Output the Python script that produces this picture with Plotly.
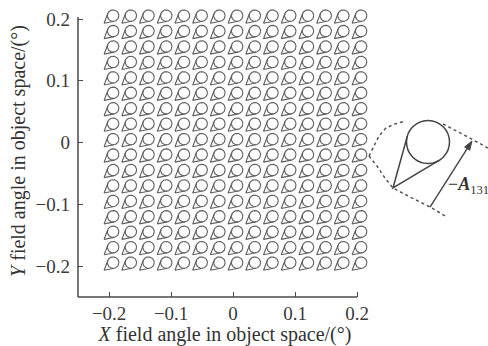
import numpy as np
import plotly.graph_objects as go

# ---- data: field-point grid (deg) ----
x_fields = [-0.2, -0.1714, -0.1429, -0.1143, -0.0857, -0.0571, -0.0286, 0.0,
            0.0286, 0.0571, 0.0857, 0.1143, 0.1429, 0.1714, 0.2]
y_fields = [0.2, 0.175, 0.15, 0.125, 0.1, 0.075, 0.05, 0.025, 0.0,
            -0.025, -0.05, -0.075, -0.1, -0.125, -0.15, -0.175, -0.2]
tick_vals = [-0.2, -0.1, 0, 0.1, 0.2]
tick_text = ["\u22120.2", "\u22120.1", "0", "0.1", "0.2"]
x_title = "<i>X</i> field angle in object space/(°)"
y_title = "<i>Y</i> field angle in object space/(°)"
callout_label = "\u2212<b><i>A</i></b><sub>131</sub>"

# ---- layout geometry (pixels) ----
W, H = 488, 346
L, R, T, B = 78, 372, 5, 297          # plot area (extended so glyphs are not clipped)
AX_END_X = 0.2                         # visible end of x-axis line
AX_END_Y = 0.2032                      # visible end of y-axis line
px_per_x = 620.0
px_per_y = 617.5
x_lo = -0.2502
y_lo = -0.2502
xr = [x_lo, x_lo + (R - L) / px_per_x]
yr = [y_lo, y_lo + (B - T) / px_per_y]
sx, sy = px_per_x, px_per_y

# glyph shape (pixels, screen y down) relative to the field point
C_OFF = (4.0, -3.4)
RAD = 5.7
APEX = (-5.0, 4.2)


def glyph_px(cx, cy, r, ax_, ay_, n=40):
    t = np.linspace(0, 2 * np.pi, n + 1)
    circ = (cx + r * np.cos(t), cy + r * np.sin(t))
    dx, dy = ax_ - cx, ay_ - cy
    d = np.hypot(dx, dy)
    th0 = np.arctan2(dy, dx)
    a = np.arccos(r / d)
    p1 = (cx + r * np.cos(th0 + a), cy + r * np.sin(th0 + a))
    p2 = (cx + r * np.cos(th0 - a), cy + r * np.sin(th0 - a))
    tang = ([p1[0], ax_, p2[0]], [p1[1], ay_, p2[1]])
    return circ, tang


xs, ys = [], []
circ, tang = glyph_px(C_OFF[0], C_OFF[1], RAD, APEX[0], APEX[1])
for yf in y_fields:
    for xf in x_fields:
        for px_, py_ in (circ, tang):
            xs.extend(list(xf + np.asarray(px_) / sx) + [None])
            ys.extend(list(yf - np.asarray(py_) / sy) + [None])

fig = go.Figure()
fig.add_trace(go.Scatter(x=xs, y=ys, mode="lines",
                         line=dict(color="#626262", width=1.15),
                         hoverinfo="skip", showlegend=False))


def P(px, py):
    return (px - L) / (R - L), (B - py) / (B - T)


def path_from(points, close=False):
    s = ""
    for i, (px, py) in enumerate(points):
        qx, qy = P(px, py)
        s += ("M" if i == 0 else " L") + f"{qx:.4f},{qy:.4f}"
    return s + (" Z" if close else "")


axis_col = "#4a4a4a"
shapes = []
# axis lines (ending at the last tick like the reference)
shapes.append(dict(type="line", xref="x", yref="paper", x0=xr[0], x1=AX_END_X, y0=0, y1=0,
                   line=dict(color=axis_col, width=1.5)))
shapes.append(dict(type="line", xref="paper", yref="y", x0=0, x1=0, y0=yr[0], y1=AX_END_Y,
                   line=dict(color=axis_col, width=1.5)))

dot = dict(color="#555555", width=1.5, dash="dot")
# dotted callout outline
shapes.append(dict(type="path", xref="paper", yref="paper", line=dot,
                   path=path_from([(369, 156), (374, 146), (379, 136), (386, 128), (395, 124), (405, 121)])))
shapes.append(dict(type="path", xref="paper", yref="paper", line=dot,
                   path=path_from([(369, 156), (377, 166), (385, 178), (393, 188), (410, 197), (430, 207), (447, 217)])))
shapes.append(dict(type="path", xref="paper", yref="paper", line=dot,
                   path=path_from([(443, 124), (466, 136), (488, 148)])))

# enlarged glyph
bcx, bcy, br = 428, 142, 21.5
bcirc, btang = glyph_px(bcx, bcy, br, 393, 188)
x0, y0 = P(bcx - br, bcy + br)
x1, y1 = P(bcx + br, bcy - br)
shapes.append(dict(type="circle", xref="paper", yref="paper",
                   x0=x0, y0=y0, x1=x1, y1=y1,
                   line=dict(color="#444444", width=1.5)))
shapes.append(dict(type="path", xref="paper", yref="paper",
                   line=dict(color="#444444", width=1.5),
                   path=path_from(list(zip(btang[0], btang[1])))))

# arrow (tail -> head) with a filled head
tail = np.array([430.0, 207.0])
head = np.array([472.0, 141.0])
u = (head - tail) / np.linalg.norm(head - tail)
nrm = np.array([-u[1], u[0]])
base = head - 9 * u
shapes.append(dict(type="path", xref="paper", yref="paper",
                   line=dict(color="#444444", width=1.4),
                   path=path_from([tuple(tail), tuple(base)])))
shapes.append(dict(type="path", xref="paper", yref="paper",
                   line=dict(color="#444444", width=1), fillcolor="#444444",
                   path=path_from([tuple(head), tuple(base + 3 * nrm), tuple(base - 3 * nrm)], close=True)))

tx, ty = P(446, 185)
annotations = [
    dict(x=tx, y=ty, xref="paper", yref="paper", text=callout_label, xanchor="left",
         showarrow=False, font=dict(family="Liberation Serif", size=18, color="#333333")),
]

axis_common = dict(showline=False, ticks="inside", ticklen=5, tickcolor=axis_col, tickwidth=1.3,
                   showgrid=False, zeroline=False, tickvals=tick_vals, ticktext=tick_text,
                   tickfont=dict(family="Liberation Serif", size=19, color="#3a3a3a"),
                   automargin=False)

fig.update_layout(
    width=W, height=H,
    margin=dict(l=L, r=W - R, t=T, b=H - B),
    paper_bgcolor="white", plot_bgcolor="white",
    xaxis=dict(range=xr, ticklabelstandoff=3, **axis_common,
               title=dict(text=x_title, standoff=4,
                          font=dict(family="Liberation Serif", size=20, color="#333333"))),
    yaxis=dict(range=yr, ticklabelstandoff=7, **axis_common,
               title=dict(text=y_title, standoff=4,
                          font=dict(family="Liberation Serif", size=20, color="#333333"))),
    shapes=shapes, annotations=annotations,
)

fig.write_html("out.html", config={"displayModeBar": False},
               post_script="document.body.style.margin='0px';")
